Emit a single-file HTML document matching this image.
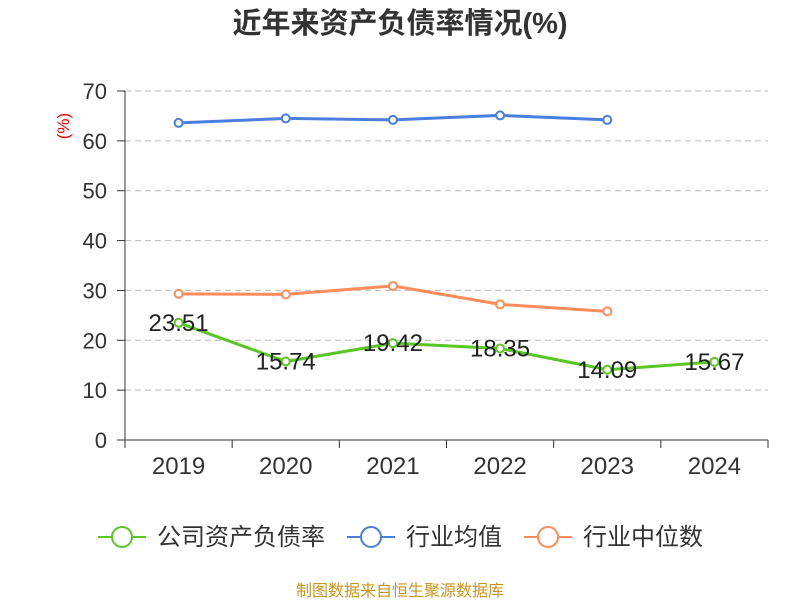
<!DOCTYPE html>
<html><head><meta charset="utf-8">
<style>
body{margin:0;background:#fff;}
svg text{font-family:"Liberation Sans","Noto Sans CJK SC",sans-serif;}
</style></head>
<body>
<svg id="chart" width="800" height="600" xmlns="http://www.w3.org/2000/svg">
<text x="400" y="33" text-anchor="middle" font-size="29" font-weight="bold" fill="#333">近年来资产负债率情况(%)</text>
<text x="69" y="126" font-size="17" fill="#e00" transform="rotate(-90 69 126)" text-anchor="middle">(%)</text>
<g id="grid"></g><g id="axes"></g><g id="series"></g>
<g>
 <g><line x1="98" y1="537" x2="146" y2="537" stroke="#5ac623" stroke-width="2"/><circle cx="122" cy="537" r="10" fill="#fff" stroke="#5ac623" stroke-width="2"/><text x="157" y="545" font-size="24" fill="#333">公司资产负债率</text></g>
 <g><line x1="347" y1="537" x2="395" y2="537" stroke="#4a7fe0" stroke-width="2"/><circle cx="371" cy="537" r="10" fill="#fff" stroke="#4a7fe0" stroke-width="2"/><text x="406" y="545" font-size="24" fill="#333">行业均值</text></g>
 <g><line x1="524" y1="537" x2="572" y2="537" stroke="#ff8c5a" stroke-width="2"/><circle cx="548" cy="537" r="10" fill="#fff" stroke="#ff8c5a" stroke-width="2"/><text x="583" y="545" font-size="24" fill="#333">行业中位数</text></g>
</g>
<text x="400" y="596" text-anchor="middle" font-size="16" fill="#c8961e">制图数据来自恒生聚源数据库</text>
</svg>
<script>
const categories=["2019","2020","2021","2022","2023","2024"];
const companyValues=[23.51,15.74,19.42,18.35,14.09,15.67];
const industryAvg=[63.6,64.5,64.2,65.1,64.2];
const industryMedian=[29.3,29.2,30.9,27.2,25.8];
const yTicks=[0,10,20,30,40,50,60,70];
const NS="http://www.w3.org/2000/svg";
const x0=125,x1=768,yTop=91,yBot=440,yMax=70;
const bw=(x1-x0)/categories.length;
const xs=i=>x0+bw*(i+0.5);
const ys=v=>yBot-(v/yMax)*(yBot-yTop);
function mk(tag,attrs,parent){const e=document.createElementNS(NS,tag);for(const k in attrs)e.setAttribute(k,attrs[k]);parent.appendChild(e);return e;}
const grid=document.getElementById('grid'),axes=document.getElementById('axes'),ser=document.getElementById('series');
yTicks.forEach(t=>{
 if(t>0){const g=mk('line',{x1:x0,x2:x1,y1:ys(t),y2:ys(t),stroke:'#bbb','stroke-dasharray':'6,4'},grid);
 
 }
 const tk=mk('line',{x1:x0-8,x2:x0,y1:ys(t),y2:ys(t),stroke:'#333'},axes);
 
 
 const lb=mk('text',{x:x0-18,y:ys(t)+8,'text-anchor':'end','font-size':22,fill:'#333'},axes);lb.textContent=t;
 
 
});
const ya=mk('line',{x1:x0,x2:x0,y1:yTop,y2:yBot,stroke:'#333'},axes);


const xa=mk('line',{x1:x0,x2:x1,y1:yBot,y2:yBot,stroke:'#333'},axes);


for(let i=0;i<=categories.length;i++){const t=mk('line',{x1:x0+bw*i,x2:x0+bw*i,y1:yBot,y2:yBot+8,stroke:'#333'},axes);
 
 }
categories.forEach((c,i)=>{const t=mk('text',{x:xs(i),y:474,'text-anchor':'middle','font-size':24,fill:'#333'},axes);t.textContent=c;
 
 });
function series(vals,color,name,labels){
 const pts=vals.map((v,i)=>xs(i)+','+ys(v)).join(' ');
 const pl=mk('polyline',{points:pts,fill:'none',stroke:color,'stroke-width':3},ser);
 
 
 vals.forEach((v,i)=>{const c=mk('circle',{cx:xs(i),cy:ys(v),r:4,fill:'#fff',stroke:color,'stroke-width':2},ser);
  
  
  if(labels){const t=mk('text',{x:xs(i),y:ys(v)+8,'text-anchor':'middle','font-size':24,fill:'#222'},ser);t.textContent=v.toFixed(2);
  
  }
 });
}
series(industryAvg,'#4a7fe0','industry-average',false);
series(industryMedian,'#ff8c5a','industry-median',false);
series(companyValues,'#5ac623','company-debt-ratio',true);
</script>
</body></html>
